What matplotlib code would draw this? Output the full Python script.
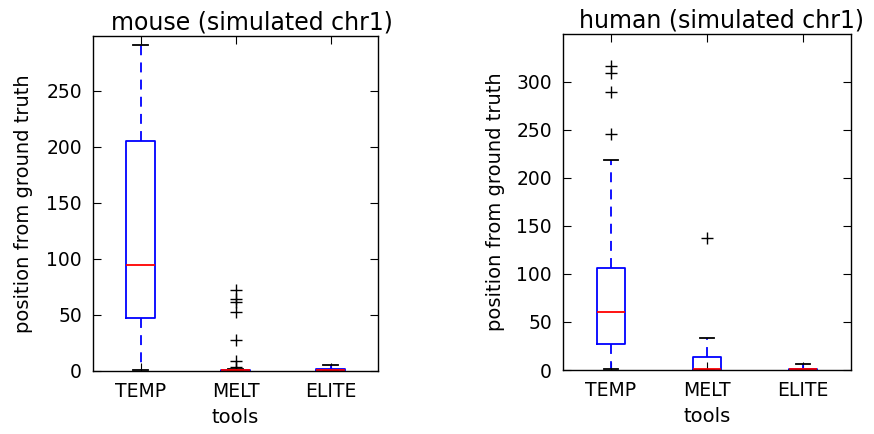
import matplotlib
matplotlib.use("Agg")
import matplotlib.pyplot as plt

tools = ["TEMP", "MELT", "ELITE"]

# mouse (simulated chr1)
mouse_whislo = [1, 0, 0]
mouse_q1 = [47.6, 0, 0]
mouse_med = [94.5, 1, 1]
mouse_q3 = [205, 1, 1.5]
mouse_whishi = [290.7, 2, 5]
mouse_fliers = [[], [72.4, 64, 61.5, 52.5, 27.7, 9.2, 3.8], []]

# human (simulated chr1)
human_whislo = [1, 0, 0]
human_q1 = [26.8, 0, 0]
human_med = [60.1, 0.8, 1]
human_q3 = [105.9, 13.9, 1.5]
human_whishi = [218.4, 33, 6.2]
human_fliers = [[316.7, 309, 289.6, 245.8], [137.2], []]

panels = [
    ("mouse (simulated chr1)", mouse_whislo, mouse_q1, mouse_med, mouse_q3,
     mouse_whishi, mouse_fliers, 299, [93, 378, 36, 371], 0.558, -0.2105),
    ("human (simulated chr1)", human_whislo, human_q1, human_med, human_q3,
     human_whishi, human_fliers, 349.5, [563, 851, 34, 370], 0.552, -0.2014),
]

W, H = 874, 434
fig = plt.figure(figsize=(W / 100, H / 100), dpi=100, facecolor="white")
plt.rcParams["font.family"] = ["DejaVu Sans"]

for (title, wlo, q1, med, q3, whi, fl, ytop, box, tx, lx) in panels:
    x0, x1, ytop_px, ybot_px = box
    ax = fig.add_axes([x0 / W, (H - ybot_px) / H, (x1 - x0) / W, (ybot_px - ytop_px) / H])
    stats = []
    for i, name in enumerate(tools):
        stats.append(dict(label=name, whislo=wlo[i], q1=q1[i], med=med[i],
                          q3=q3[i], whishi=whi[i], fliers=fl[i]))
    ax.bxp(stats, positions=[1, 2, 3], widths=0.3, showfliers=True,
           boxprops=dict(color="blue", linewidth=1.3),
           medianprops=dict(color="red", linewidth=1.3),
           whiskerprops=dict(color="blue", linewidth=1.3, linestyle=(0, (5.5, 4))),
           capprops=dict(color="black", linewidth=1.3),
           flierprops=dict(marker="+", markeredgecolor="black", markersize=8,
                           linestyle="none", markeredgewidth=1.0))
    ax.set_xlim(0.5, 3.5)
    ax.set_ylim(0, ytop)
    ax.set_xticks([1, 2, 3])
    ax.set_xticklabels(tools)
    ax.tick_params(direction="in", length=6, width=0.8, top=True, right=True,
                   labelsize=13.5)
    ax.tick_params(axis="x", pad=8)
    ax.tick_params(axis="y", pad=8)
    for s in ax.spines.values():
        s.set_linewidth(1.0)
    ax.set_title(title, fontsize=17, x=tx, pad=5)
    ax.set_xlabel("tools", fontsize=14)
    ax.set_ylabel("position from ground truth", fontsize=14)
    ax.yaxis.set_label_coords(lx, 0.5)
    ax.xaxis.set_label_coords(0.5, -0.11)

fig.savefig("out.png", dpi=100, facecolor="white")
